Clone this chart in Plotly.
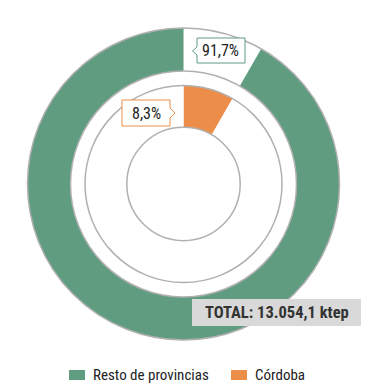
import plotly.graph_objects as go

categories = ["Resto de provincias", "Córdoba"]
shares = [91.7, 8.3]
total_text = "TOTAL: 13.054,1 ktep"

GREEN = "#5f9c80"
ORANGE = "#ec8e4a"
GRAY_LINE = "#b0b0b0"
W, H = 368, 388
FONT = "Roboto Condensed, Liberation Sans Narrow, DejaVu Sans Condensed, sans-serif"

def px(x):
    return x / W

def py(y):
    return 1 - y / H

cx, cy = 183.5, 184
R_OUT, R_OUT_IN = 156, 113
R_MID, R_MID_IN = 98.5, 56.7

def dom(r):
    return dict(x=[px(cx - r), px(cx + r)], y=[py(cy + r), py(cy - r)])

# Córdoba first so it starts at 12 o'clock going clockwise
pie_labels = categories[::-1]
pie_values = shares[::-1]

fig = go.Figure()
fig.add_trace(go.Pie(
    labels=pie_labels, values=pie_values, sort=False, direction="clockwise",
    hole=R_OUT_IN / R_OUT, domain=dom(R_OUT),
    marker=dict(colors=["white", GREEN], line=dict(width=0)),
    textinfo="none", hoverinfo="skip", showlegend=False))
fig.add_trace(go.Pie(
    labels=pie_labels, values=pie_values, sort=False, direction="clockwise",
    hole=R_MID_IN / R_MID, domain=dom(R_MID),
    marker=dict(colors=[ORANGE, "white"], line=dict(width=0)),
    textinfo="none", hoverinfo="skip", showlegend=False))

shapes = []
for r in (R_OUT, R_OUT_IN, R_MID, R_MID_IN):
    shapes.append(dict(type="circle", xref="paper", yref="paper",
                       x0=px(cx - r), x1=px(cx + r), y0=py(cy + r), y1=py(cy - r),
                       line=dict(color=GRAY_LINE, width=1.5)))

def path(points):
    return "M " + " L ".join(f"{px(x)},{py(y)}" for x, y in points) + " Z"

# callout for outer value (pointer left)
shapes.append(dict(type="path", xref="paper", yref="paper",
                   path=path([(197, 38), (245, 38), (245, 63), (197, 63), (197, 55), (192.5, 51), (197, 47)]),
                   fillcolor="white", line=dict(color=GREEN, width=1)))
# callout for inner value (pointer right)
shapes.append(dict(type="path", xref="paper", yref="paper",
                   path=path([(122, 100), (170, 100), (170, 108), (175, 113), (170, 118), (170, 126), (122, 126)]),
                   fillcolor="white", line=dict(color=ORANGE, width=1)))
# total box
shapes.append(dict(type="rect", xref="paper", yref="paper",
                   x0=px(192), x1=px(361), y0=py(326), y1=py(299),
                   fillcolor="#d9d9d9", line=dict(width=0)))

def fmt(v):
    return f"{v:.1f}".replace(".", ",") + "%"

annotations = [
    dict(x=px(220), y=py(50.5), text=fmt(shares[0]), showarrow=False,
         xanchor="center", yanchor="middle",
         xref="paper", yref="paper", font=dict(family=FONT, size=16, color="#222")),
    dict(x=px(146), y=py(113), text=fmt(shares[1]), showarrow=False,
         xanchor="center", yanchor="middle",
         xref="paper", yref="paper", font=dict(family=FONT, size=16, color="#222")),
    dict(x=px(277), y=py(312.5), text="<b>" + total_text + "</b>", showarrow=False,
         xanchor="center", yanchor="middle",
         xref="paper", yref="paper", font=dict(family=FONT, size=16.5, color="#333")),
]

# manual legend
leg_colors = [GREEN, ORANGE]
leg_x = [69, 231]
for c, x0, lab in zip(leg_colors, leg_x, categories):
    shapes.append(dict(type="rect", xref="paper", yref="paper",
                       x0=px(x0), x1=px(x0 + 16), y0=py(380), y1=py(370),
                       fillcolor=c, line=dict(width=0)))
    annotations.append(dict(x=px(x0 + 22), y=py(375), text=lab, showarrow=False,
                            xanchor="left", yanchor="middle", xref="paper", yref="paper",
                            font=dict(family=FONT, size=15, color="#222")))

fig.update_layout(width=W, height=H, margin=dict(l=0, r=0, t=0, b=0),
                  paper_bgcolor="white", plot_bgcolor="white",
                  shapes=shapes, annotations=annotations, showlegend=False)

fig.write_html("out.html")
